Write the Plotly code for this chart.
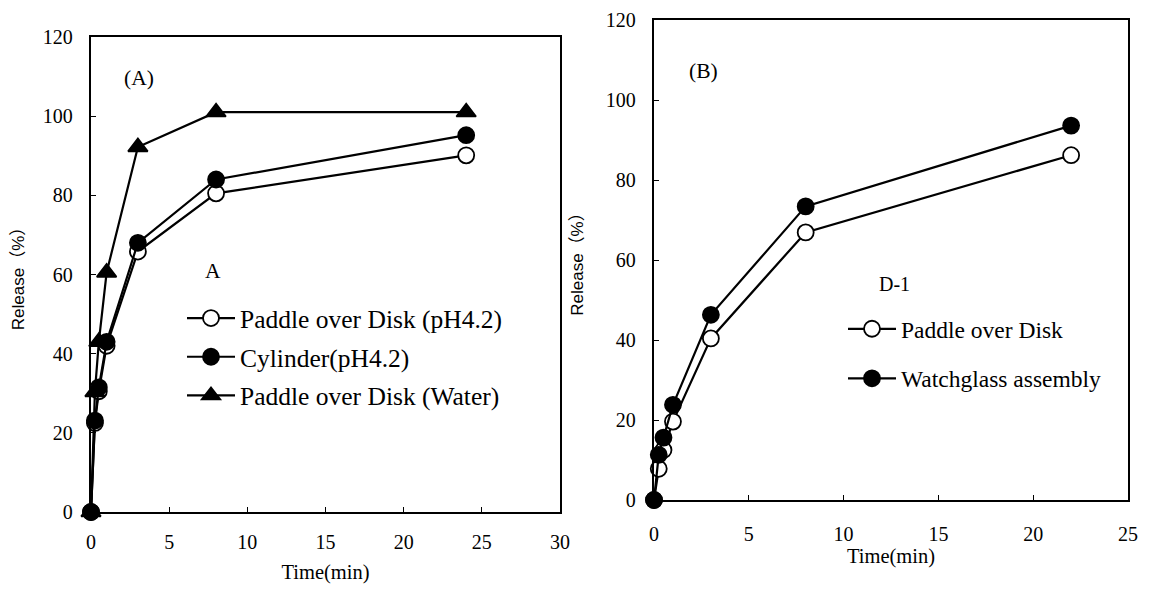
import plotly.graph_objects as go

# ---- Panel A data ----
time_a = [0, 0.25, 0.5, 1, 3, 8, 24]
paddle_ph42 = [0, 22.5, 30.5, 42, 65.8, 80.5, 90.1]
cylinder_ph42 = [0, 23.1, 31.5, 43, 68, 84, 95.2]
time_a_water = [0, 0.25, 0.5, 1, 3, 8, 24]
paddle_water = [0, 30.3, 43, 60.5, 92.2, 101, 101]

# ---- Panel B data ----
time_b = [0, 0.25, 0.5, 1, 3, 8, 22]
paddle_b = [0, 7.8, 12.5, 19.6, 40.4, 66.9, 86.2]
watchglass_b = [0, 11.3, 15.6, 23.8, 46.3, 73.4, 93.6]

x_ticks_a = [0, 5, 10, 15, 20, 25, 30]
x_ticks_b = [0, 5, 10, 15, 20, 25]
y_ticks = [0, 20, 40, 60, 80, 100, 120]

SERIF = "Liberation Serif"
SANS = "Liberation Sans, Noto Sans CJK JP"
BLACK = "black"

# page body has an 8px margin; keep the figure inside the viewport
OFF = 8
W, H = 1149 - 2 * OFF, 592 - 2 * OFF


def px(x):
    return (x - OFF) / W


def py(y):
    return 1 - (y - OFF) / H


fig = go.Figure()


def add(x, y, name, symbol, filled, xa, ya, legend, size=16):
    fig.add_trace(go.Scatter(
        x=x, y=y, name=name, mode="lines+markers",
        xaxis=xa, yaxis=ya, legend=legend, legendgroup=name,
        line=dict(color=BLACK, width=2.2),
        marker=dict(symbol=symbol, size=size,
                    color=BLACK if filled else "white",
                    line=dict(color=BLACK, width=1.8)),
        cliponaxis=False,
    ))


add(time_a, paddle_ph42, "Paddle over Disk (pH4.2)", "circle", False, "x", "y", "legend")
add(time_a, cylinder_ph42, "Cylinder(pH4.2)", "circle", True, "x", "y", "legend")
add(time_a_water, paddle_water, "Paddle over Disk (Water)", "triangle-up", True, "x", "y", "legend", size=17)

add(time_b, paddle_b, "Paddle over Disk", "circle", False, "x2", "y2", "legend2")
add(time_b, watchglass_b, "Watchglass assembly", "circle", True, "x2", "y2", "legend2")

axis_common = dict(
    showgrid=False, zeroline=False, showline=True, linecolor=BLACK, linewidth=2.4,
    mirror=True, ticks="inside", ticklen=5, tickcolor=BLACK, tickwidth=1,
    automargin=False,
    tickfont=dict(family=SERIF, size=20, color=BLACK),
)

ytitle = "Release（%）"

fig.update_layout(
    width=W, height=H,
    margin=dict(l=0, r=0, t=0, b=0),
    paper_bgcolor="white", plot_bgcolor="white",
    showlegend=True,
    xaxis=dict(domain=[px(91), px(560)], range=[0, 30], tickvals=x_ticks_a,
               anchor="y", ticklabelstandoff=11,
               title=dict(text="Time(min)", font=dict(family=SERIF, size=20.5, color=BLACK), standoff=24),
               **axis_common),
    yaxis=dict(domain=[py(512), py(37)], range=[0, 120], tickvals=y_ticks,
               anchor="x", ticklabelstandoff=12,
               title=dict(text=ytitle, font=dict(family=SANS, size=17, color=BLACK), standoff=14),
               **axis_common),
    xaxis2=dict(domain=[px(654), px(1128)], range=[0, 25], tickvals=x_ticks_b,
                anchor="y2", ticklabelstandoff=15,
                title=dict(text="Time(min)", font=dict(family=SERIF, size=20.5, color=BLACK), standoff=2),
                **axis_common),
    yaxis2=dict(domain=[py(500), py(20)], range=[0, 120], tickvals=y_ticks,
                anchor="x2", ticklabelstandoff=12,
                title=dict(text=ytitle, font=dict(family=SANS, size=17, color=BLACK), standoff=18),
                **axis_common),
    legend=dict(x=px(182), y=py(295), xanchor="left", yanchor="top",
                bgcolor="rgba(0,0,0,0)", font=dict(family=SERIF, size=25.5, color=BLACK),
                traceorder="grouped", tracegroupgap=2.5, itemwidth=48),
    legend2=dict(x=px(843), y=py(307), xanchor="left", yanchor="top",
                 bgcolor="rgba(0,0,0,0)", font=dict(family=SERIF, size=23.5, color=BLACK),
                 traceorder="grouped", tracegroupgap=16, itemwidth=48),
    annotations=[
        dict(text="(A)", x=3.1, y=109.6, xref="x", yref="y", showarrow=False,
             font=dict(family=SERIF, size=21.5, color=BLACK)),
        dict(text="A", x=7.8, y=60.8, xref="x", yref="y", showarrow=False,
             font=dict(family=SERIF, size=21.5, color=BLACK)),
        dict(text="(B)", x=2.6, y=107.3, xref="x2", yref="y2", showarrow=False,
             font=dict(family=SERIF, size=21.5, color=BLACK)),
        dict(text="D-1", x=12.7, y=53.9, xref="x2", yref="y2", showarrow=False,
             font=dict(family=SERIF, size=20, color=BLACK)),
    ],
)

fig.write_html("out.html")
